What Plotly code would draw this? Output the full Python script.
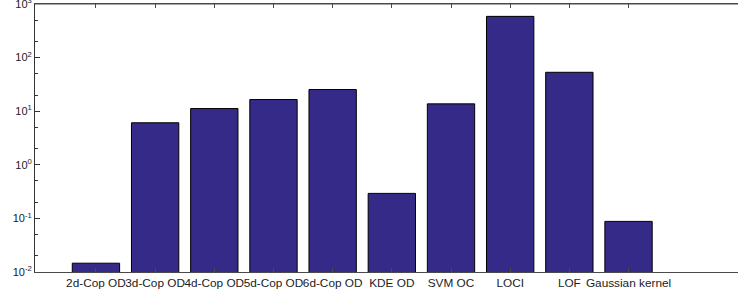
import plotly.graph_objects as go

categories = ["2d-Cop OD", "3d-Cop OD", "4d-Cop OD", "5d-Cop OD", "6d-Cop OD",
              "KDE OD", "SVM OC", "LOCI", "LOF", "Gaussian kernel"]
values = [0.0146, 6.08, 11.2, 16.5, 25.4, 0.293, 13.7, 588, 53.2, 0.088]
ytick_vals = [0.01, 0.1, 1, 10, 100, 1000]
ytick_text = ["10<sup>-2</sup>", "10<sup>-1</sup>", "10<sup>0</sup>",
              "10<sup>1</sup>", "10<sup>2</sup>", "10<sup>3</sup>"]

fig = go.Figure()
fig.add_trace(go.Bar(
    x=list(range(len(categories))), y=values, width=0.8,
    marker=dict(color="rgb(53,42,135)", line=dict(color="black", width=1)),
))

axis_color = "#4a4a4a"
fig.update_layout(
    width=738, height=296,
    margin=dict(l=35, r=0, t=4, b=24, autoexpand=False),
    paper_bgcolor="white", plot_bgcolor="white",
    showlegend=False,
    font=dict(family="Liberation Sans, Arial, sans-serif", size=10, color="#222222"),
    xaxis=dict(
        range=[-1.03, 10.85], automargin=False,
        tickmode="array", tickvals=list(range(len(categories))), ticktext=categories,
        tickangle=0, ticklabeloverflow="allow",
        ticks="inside", ticklen=4, tickcolor=axis_color,
        showline=True, linecolor=axis_color, linewidth=1, mirror="ticks",
        showgrid=False, zeroline=False,
        tickfont=dict(size=11.8),
    ),
    yaxis=dict(
        type="log", range=[-2, 3], automargin=False,
        tickmode="array", tickvals=ytick_vals, ticktext=ytick_text,
        ticklabeloverflow="allow",
        ticks="inside", ticklen=5, tickcolor="#333333",
        minor=dict(ticks="inside", ticklen=3, tickcolor="#333333", showgrid=False),
        showline=True, linecolor="#333333", linewidth=1,
        showgrid=False, zeroline=False,
        tickfont=dict(size=11),
    ),
)
# frame top edge (paper-relative styling, not data)
fig.add_shape(type="line", xref="paper", yref="paper", x0=0, x1=1, y0=1, y1=1,
              line=dict(color=axis_color, width=1.2), layer="above")

fig.write_html("out.html", config={"displayModeBar": False},
               post_script="document.body.style.margin='0';document.body.style.padding='0';")
